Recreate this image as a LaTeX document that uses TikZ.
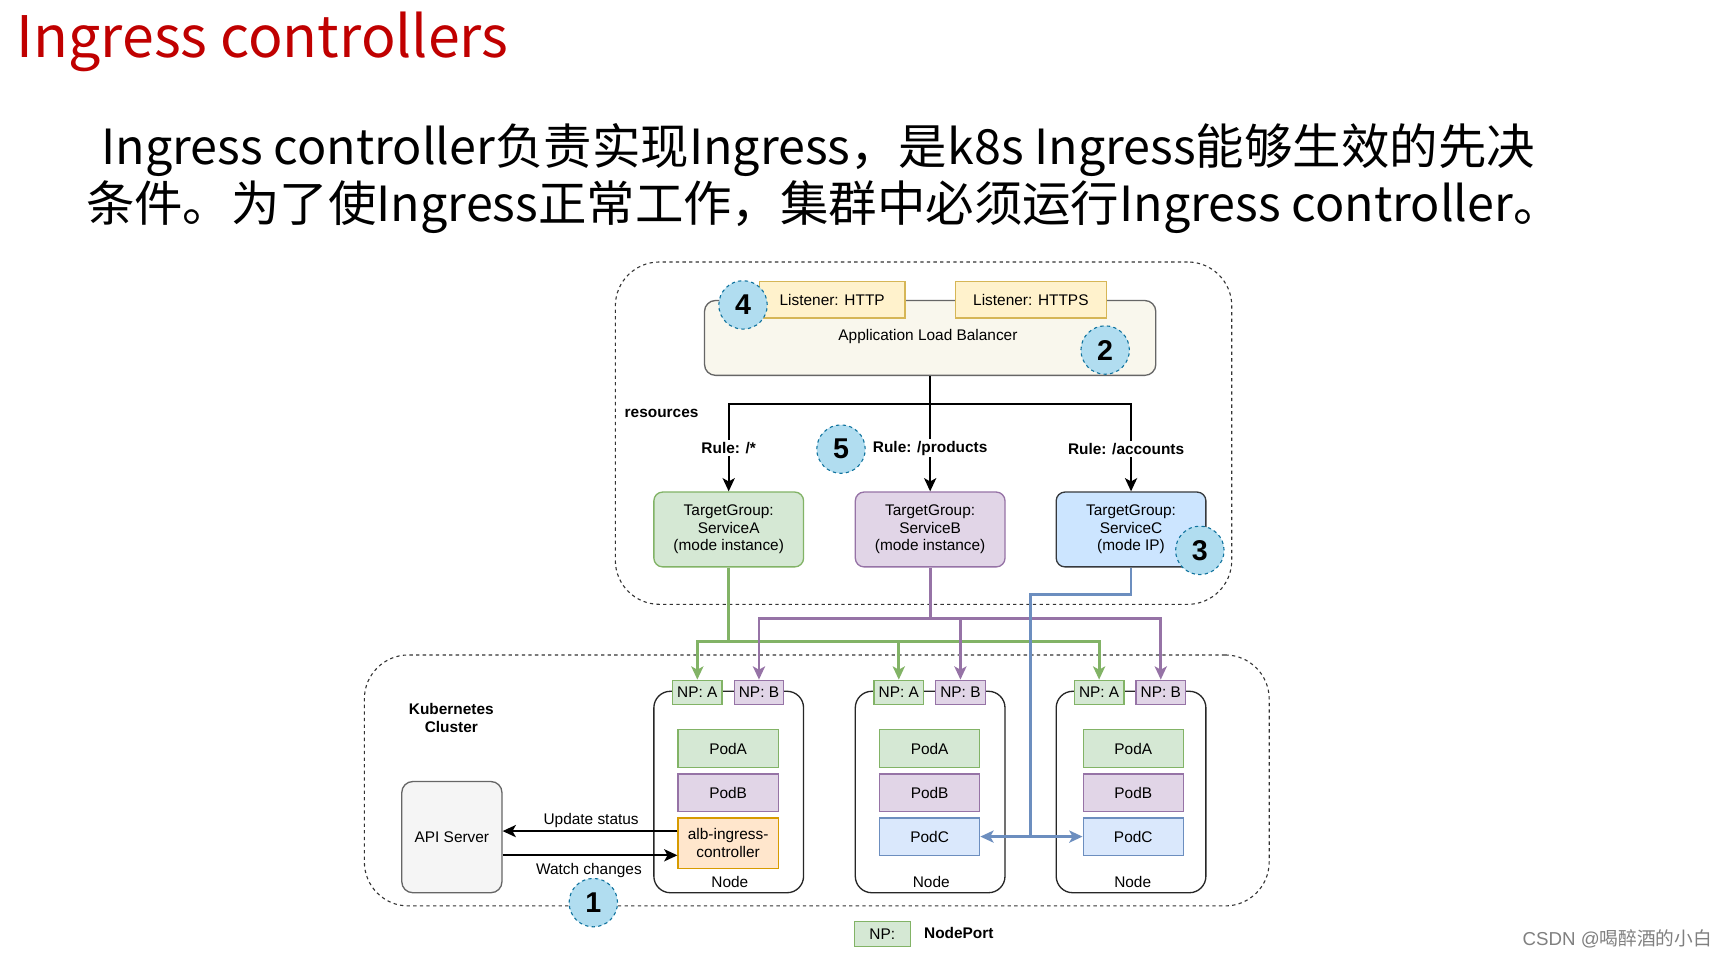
\documentclass[tikz,border=0pt]{standalone}
\usepackage{fontspec}
\setmainfont{Liberation Sans}
\newfontfamily\cjk{Noto Sans CJK SC}
\usetikzlibrary{arrows.meta}
\definecolor{gfill}{HTML}{D5E8D4}\definecolor{gline}{HTML}{82B366}
\definecolor{pfill}{HTML}{E1D5E7}\definecolor{pline}{HTML}{9673A6}
\definecolor{bfill}{HTML}{DAE8FC}\definecolor{bline}{HTML}{6C8EBF}
\definecolor{cfill}{HTML}{CCE5FF}\definecolor{cline}{HTML}{36393D}
\definecolor{ofill}{HTML}{FFE6CC}\definecolor{oline}{HTML}{D79B00}
\definecolor{yfill}{HTML}{FFF2CC}\definecolor{yline}{HTML}{D6B656}
\definecolor{albfill}{HTML}{F9F7ED}\definecolor{grayline}{HTML}{666666}
\definecolor{apifill}{HTML}{F5F5F5}
\definecolor{badgefill}{HTML}{B1DDF0}\definecolor{badgeline}{HTML}{10739E}
\definecolor{titlered}{HTML}{C00000}
\tikzset{
  txt/.style={font=\fontsize{14}{16}\selectfont, align=center},
  btxt/.style={font=\bfseries\fontsize{14}{16}\selectfont, align=center},
  box/.style={draw, line width=1.2pt, inner sep=0pt, txt},
  region/.style={draw=black!80, line width=1pt, dash pattern=on 3pt off 3pt, rounded corners=40pt, inner sep=0pt},
  nodebox/.style={box, draw=black!85, fill=white, rounded corners=15pt, minimum width=136pt, minimum height=183pt},
  np/.style={box, minimum width=45pt, minimum height=22pt},
  pod/.style={box, minimum width=91pt, minimum height=34pt},
  tg/.style={box, rounded corners=8pt, minimum width=136pt, minimum height=68pt},
  badge/.style={circle, draw=badgeline, fill=badgefill, dashed, line width=1pt, minimum size=44pt, inner sep=0pt, font=\bfseries\fontsize{26}{26}\selectfont},
  blk/.style={line width=2pt, draw=black},
  blkarrow/.style={blk, -{Stealth[length=12pt,width=11pt,inset=3pt]}},
  garrow/.style={line width=2.5pt, draw=gline, -{Stealth[length=12pt,width=11pt,inset=3pt]}},
  parrow/.style={line width=2.5pt, draw=pline, -{Stealth[length=12pt,width=11pt,inset=3pt]}},
  barrow/.style={line width=2.5pt, draw=bline, -{Stealth[length=12pt,width=11pt,inset=3pt]}},
  rule/.style={btxt, fill=white, inner sep=2pt},
}
\begin{document}
\begin{tikzpicture}[x=1pt,y=-1pt]
\useasboundingbox[fill=white] (0,0) rectangle (1568,870);

% title and body text
\node[anchor=base west, inner sep=0pt, text=titlered, font=\cjk\fontsize{52}{52}\selectfont] (title) at (15,52) {Ingress controllers};
\node[anchor=base west, inner sep=0pt, font=\cjk\fontsize{44}{44}\selectfont] (line1) at (92,149) {Ingress controller负责实现Ingress，是k8s Ingress能够生效的先决};
\node[anchor=base west, inner sep=0pt, font=\cjk\fontsize{44}{44}\selectfont] (line2) at (78,201) {条件。为了使Ingress正常工作，集群中必须运行Ingress controller。};

% regions
\node[region, minimum width=560pt, minimum height=311pt] (res) at (839,393.5) {};
\node[region, minimum width=822pt, minimum height=228pt] (k8s) at (742,709) {};
\node[btxt, anchor=center] (reslbl) at (601,376) {resources};
\node[btxt] (k8slbl) at (410,652) {Kubernetes\\Cluster};

% ALB
\node[box, draw=grayline, fill=albfill, rounded corners=10pt, minimum width=410pt, minimum height=68pt] (alb) at (845,307) {};
\node[txt] (albtxt) at (843,306) {Application Load Balancer};
\node[box, draw=yline, fill=yfill, minimum width=132pt, minimum height=33pt] (lhttp) at (756,272.5) {Listener: HTTP};
\node[box, draw=yline, fill=yfill, minimum width=137pt, minimum height=33pt] (lhttps) at (936.5,272.5) {Listener: HTTPS};

% target groups
\node[tg, draw=gline, fill=gfill] (tga) at (662,481) {TargetGroup:\\ServiceA\\(mode instance)};
\node[tg, draw=pline, fill=pfill] (tgb) at (845,481) {TargetGroup:\\ServiceB\\(mode instance)};
\node[tg, draw=cline, fill=cfill] (tgc) at (1027.5,481) {TargetGroup:\\ServiceC\\(mode IP)};

% tree from ALB
\coordinate (split) at (845,367);
\draw[blk] (alb.south) -- (split);
\draw[blkarrow] (split) -| (tga.north);
\draw[blkarrow] (split) -| (tgc.north);
\draw[blkarrow] (split) -- (tgb.north);
\node[rule] (r1) at (662,407) {Rule: /*};
\node[rule] (r2) at (845,407) {Rule: /products};
\node[rule] (r3) at (1023,408) {Rule: /accounts};

% nodes
\node[nodebox] (n1) at (662,719.5) {};
\node[nodebox] (n2) at (845,719.5) {};
\node[nodebox] (n3) at (1027.5,719.5) {};
\node[txt] (n1l) at (663,801) {Node};
\node[txt] (n2l) at (846,801) {Node};
\node[txt] (n3l) at (1029,801) {Node};

% node ports
\node[np, draw=gline, fill=gfill] (npa1) at (633.5,629) {NP: A};
\node[np, draw=pline, fill=pfill] (npb1) at (689.5,629) {NP: B};
\node[np, draw=gline, fill=gfill] (npa2) at (816.5,629) {NP: A};
\node[np, draw=pline, fill=pfill] (npb2) at (872.5,629) {NP: B};
\node[np, draw=gline, fill=gfill] (npa3) at (998.5,629) {NP: A};
\node[np, draw=pline, fill=pfill] (npb3) at (1054.5,629) {NP: B};

% pods
\node[pod, draw=gline, fill=gfill] (pa1) at (661.5,680) {PodA};
\node[pod, draw=pline, fill=pfill] (pb1) at (661.5,720) {PodB};
\node[pod, draw=oline, fill=ofill, minimum height=46pt] (ctl) at (661.5,766) {alb-ingress-\\controller};
\node[pod, draw=gline, fill=gfill] (pa2) at (844.5,680) {PodA};
\node[pod, draw=pline, fill=pfill] (pb2) at (844.5,720) {PodB};
\node[pod, draw=bline, fill=bfill] (pc2) at (844.5,760) {PodC};
\node[pod, draw=gline, fill=gfill] (pa3) at (1029.5,680) {PodA};
\node[pod, draw=pline, fill=pfill] (pb3) at (1029.5,720) {PodB};
\node[pod, draw=bline, fill=bfill] (pc3) at (1029.5,760) {PodC};

% green connectors
\coordinate (gj) at (662,583);
\draw[line width=2.5pt, draw=gline] (tga.south) -- (gj);
\draw[garrow] (gj) -| (npa1.north);
\draw[garrow] (gj) -| (npa2.north);
\draw[garrow] (gj) -| (npa3.north);

% purple connectors
\coordinate (pj) at (845,562);
\draw[line width=2.5pt, draw=pline] (tgb.south) -- (pj);
\draw[parrow] (pj) -| (npb1.north);
\draw[parrow] (pj) -| (npb2.north);
\draw[parrow] (pj) -| (npb3.north);

% blue connectors
\coordinate (bturn) at (936,540);
\coordinate (bj) at (936,760);
\draw[line width=2.5pt, draw=bline] (tgc.south) |- (bturn) -- (bj);
\draw[barrow] (bj) -- (pc2.east);
\draw[barrow] (bj) -- (pc3.west);

% API server
\node[box, draw=grayline, fill=apifill, rounded corners=10pt, minimum width=91pt, minimum height=101pt] (api) at (410.5,760.5) {API Server};
\draw[blkarrow] ([yshift=11pt]ctl.west) -- ([yshift=11pt]ctl.west -| api.east);
\draw[blkarrow] ([yshift=-11pt]ctl.west -| api.east) -- ([yshift=-11pt]ctl.west);
\node[txt] (upd) at (537,745) {Update status};
\node[txt] (wat) at (535,791) {Watch changes};

% badges
\node[badge] (b4) at (675,277) {4};
\node[badge] (b2) at (1004,318) {2};
\node[badge] (b5) at (764,408) {5};
\node[badge] (b3) at (1090,500) {3};
\node[badge] (b1) at (539,820) {1};

% legend
\node[box, draw=gline, fill=gfill, minimum width=51pt, minimum height=23pt] (leg) at (801.5,848.5) {NP:};
\node[btxt, anchor=west] (legtxt) at (836,848) {NodePort};

% watermark
\node[anchor=base west, inner sep=0pt, text=black!50, font=\fontsize{17}{17}\selectfont] (wm) at (1383,859) {CSDN @{\cjk 喝醉酒的小白}};
\end{tikzpicture}
\end{document}
